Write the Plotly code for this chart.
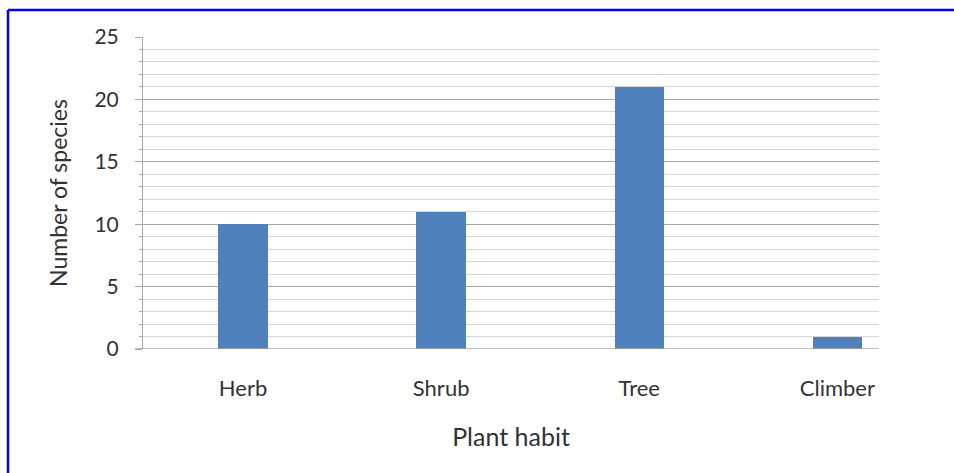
import plotly.graph_objects as go

categories = ["Herb", "Shrub", "Tree", "Climber"]
species_counts = [10, 11, 21, 1]
y_tick_vals = [0, 5, 10, 15, 20, 25]

W, H = 954, 473
L, R, T, B = 143, 75, 37, 124
pw, ph = W - L - R, H - T - B

fig = go.Figure(go.Bar(
    x=list(range(len(categories))), y=species_counts,
    marker=dict(color="#4F81BD", line=dict(width=0)),
    width=0.25,
))

font = "Lato, 'Open Sans', sans-serif"
fig.update_layout(
    width=W, height=H,
    margin=dict(l=L, r=R, t=T, b=B),
    plot_bgcolor="white", paper_bgcolor="white",
    font=dict(family=font, size=21, color="#333333"),
    showlegend=False,
    bargap=0,
)
fig.update_xaxes(
    range=[-0.505, 3.21],
    tickmode="array", tickvals=list(range(len(categories))), ticktext=categories,
    showgrid=False, zeroline=False, showline=False, ticks="",
    ticklabelstandoff=24,
    tickfont=dict(size=22),
    title=dict(text="Plant habit", font=dict(size=25), standoff=28),
)
fig.update_yaxes(
    range=[0, 25],
    tickmode="array", tickvals=y_tick_vals,
    showgrid=True, gridcolor="#A6A6A6", gridwidth=1,
    zeroline=False,
    showline=True, linecolor="#A6A6A6", linewidth=1,
    ticks="outside", ticklen=7, tickcolor="#A6A6A6",
    ticklabelstandoff=12,
    minor=dict(dtick=1, showgrid=True, gridcolor="#D6D6D6", gridwidth=1,
               ticks="outside", ticklen=3, tickcolor="#A6A6A6"),
    title=dict(text="Number of species", font=dict(size=23), standoff=20),
)

# baseline extending left like Excel's axis
fig.add_shape(type="line", xref="paper", yref="y",
              x0=(135 - L) / pw, x1=1, y0=0, y1=0,
              line=dict(color="#A6A6A6", width=1.5))

# blue frame (top and left edges)
bx = (8 - L) / pw
by = (H - B - 10) / ph
fig.add_shape(type="line", xref="paper", yref="paper",
              x0=bx, x1=(W - L) / pw + 0.01, y0=by, y1=by,
              line=dict(color="#0000FF", width=2.5))
fig.add_shape(type="line", xref="paper", yref="paper",
              x0=bx, x1=bx, y0=by, y1=(-B - 5) / ph,
              line=dict(color="#0000FF", width=2.5))

fig.write_html("out.html", config={"displayModeBar": False},
               post_script="document.body.style.margin='0';")
